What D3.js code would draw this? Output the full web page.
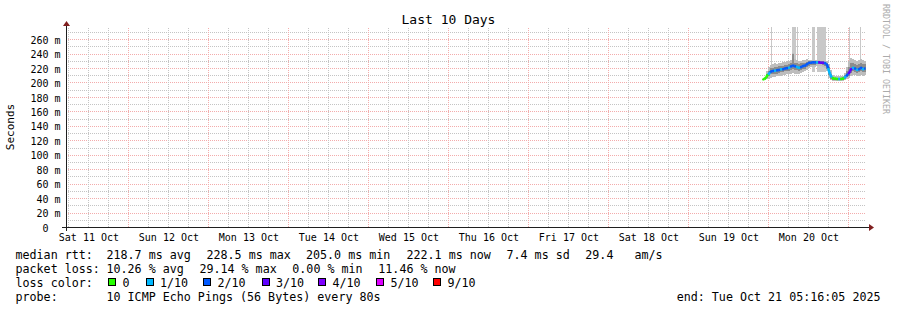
<!DOCTYPE html>
<html>
<head>
<meta charset="utf-8">
<script src="https://cdn.jsdelivr.net/npm/d3@7/dist/d3.min.js"></script>
<style>
html, body { margin: 0; padding: 0; background: #ffffff; }
svg { display: block; }
text { font-family: "DejaVu Sans Mono", monospace; fill: #000; }
</style>
</head>
<body>
<svg id="chart" width="897" height="310"></svg>
<script>
// ---------------- data ----------------
const chartTitle = "Last 10 Days";
const yAxisTitle = "Seconds";
const watermark = "RRDTOOL / TOBI OETIKER";
const rangeStart = "2025-10-11 05:16:05";
const rangeEnd = "2025-10-21 05:16:05";
const yTopMs = 278;
const yTickValues = [0, 20, 40, 60, 80, 100, 120, 140, 160, 180, 200, 220, 240, 260];

const sampleTimes = [
  "2025-10-19 22:24", "2025-10-19 23:00", "2025-10-19 23:36",
  "2025-10-20 00:12", "2025-10-20 00:48", "2025-10-20 01:24", "2025-10-20 02:00", "2025-10-20 02:36",
  "2025-10-20 03:12", "2025-10-20 03:48", "2025-10-20 04:24", "2025-10-20 05:00", "2025-10-20 05:36",
  "2025-10-20 06:12", "2025-10-20 06:48", "2025-10-20 07:24", "2025-10-20 08:00", "2025-10-20 08:36",
  "2025-10-20 09:12", "2025-10-20 09:48", "2025-10-20 10:24", "2025-10-20 11:00", "2025-10-20 11:36",
  "2025-10-20 12:12", "2025-10-20 12:48", "2025-10-20 13:24", "2025-10-20 14:00", "2025-10-20 14:36",
  "2025-10-20 15:12", "2025-10-20 15:48", "2025-10-20 16:24", "2025-10-20 17:00", "2025-10-20 17:36",
  "2025-10-20 18:12", "2025-10-20 18:48", "2025-10-20 19:24", "2025-10-20 20:00", "2025-10-20 20:36",
  "2025-10-20 21:12", "2025-10-20 21:48", "2025-10-20 22:24", "2025-10-20 23:00", "2025-10-20 23:36",
  "2025-10-21 00:12", "2025-10-21 00:48", "2025-10-21 01:24", "2025-10-21 02:00", "2025-10-21 02:36",
  "2025-10-21 03:12", "2025-10-21 03:48", "2025-10-21 04:24", "2025-10-21 05:00"
];
// median round trip time, ms
const medianRtt = [
  205, 206, 210, 213, 216, 216.5, 217, 217.5, 218, 219, 219, 220, 220.5, 221, 223, 224, 223, 222, 221, 222,
  223.5, 224, 226, 228, 228, 228.5, 228.5, 228.5, 228.5, 228, 228, 227.5, 225, 216, 209, 206.5, 206, 205.5, 205.5, 205.5,
  206, 208, 211, 214, 219, 221, 220, 218, 219, 221, 219, 220
];
// smoke: lowest ping, lower inner ping, upper inner ping, highest ping (ms)
const smokeLow = [
  204, 204, 205, 206, 207, 208, 208, 209, 209, 210, 211, 211, 212, 212, 213, 214, 213, 213, 213, 214,
  215, 216, 218, 221, 222, 222, 222, 223, 223, 223, 222, 221, 216, 207, 204, 203, 203, 203, 203, 203,
  203, 204, 205, 207, 210, 211, 211, 210, 210, 211, 210, 211
];
const smokeLowInner = [
  204.5, 205, 207, 209, 212, 212, 213, 213, 214, 215, 215, 216, 216, 217, 218, 219, 218, 218, 217, 218,
  219, 220, 222, 224, 225, 225, 225, 226, 226, 226, 225, 224, 220, 211, 206, 204.5, 204.5, 204, 204, 204,
  204.5, 206, 208, 210, 214, 216, 215, 214, 215, 216, 215, 215
];
const smokeHighInner = [
  205.5, 207, 213, 217, 221, 221, 222, 222, 223, 223, 224, 225, 225, 226, 228, 240, 228, 227, 226, 227,
  228, 228, 229, 230, 230, 230, 230, 230, 230, 230, 230, 229, 228, 222, 213, 208, 207.5, 207, 207, 207,
  208, 211, 216, 222, 227, 227, 226, 225, 226, 227, 226, 226
];
const smokeHigh = [
  206, 208, 216, 222, 225, 226, 227, 226, 228, 227, 229, 229, 230, 231, 232, 242, 233, 232, 231, 231,
  232, 232, 233, 232, 232, 232, 232, 232, 232, 231, 231, 231, 230, 226, 218, 211, 210, 209, 209, 209,
  210, 214, 222, 230, 234, 233, 232, 231, 232, 233, 232, 231
];
// lost pings out of 10 per sample
const lostPings = [
  0, 0, 0, 1, 2, 2, 1, 2, 2, 1, 2, 2, 2, 1, 2, 2, 2, 1, 1, 2,
  2, 2, 2, 2, 2, 2, 2, 1, 3, 3, 3, 2, 2, 1, 1, 0, 0, 0, 1, 0,
  0, 1, 2, 3, 3, 1, 2, 1, 2, 2, 1, 2
];
// periods where the slowest pings went off the top of the chart
const spikeStart = ["2025-10-20 00:38", "2025-10-20 06:56", "2025-10-20 08:38", "2025-10-20 12:59", "2025-10-20 14:29", "2025-10-21 00:02", "2025-10-21 03:20"];
const spikeEnd   = ["2025-10-20 00:56", "2025-10-20 08:20", "2025-10-20 08:56", "2025-10-20 13:59", "2025-10-20 17:17", "2025-10-21 00:20", "2025-10-21 03:38"];

const lossLevels = [0, 1, 2, 3, 4, 5, 9];
const lossLabels = ["0", "1/10", "2/10", "3/10", "4/10", "5/10", "9/10"];
const lossColors = ["#26ff00", "#00b8ff", "#0059ff", "#5e00ff", "#7e00ff", "#dd00ff", "#ff0000"];

const medianStats = ["median rtt:", "218.7 ms avg", "228.5 ms max", "205.0 ms min", "222.1 ms now", "7.4 ms sd", "29.4", "am/s"];
const lossStats = ["packet loss:", "10.26 % avg", "29.14 % max", "0.00 % min", "11.46 % now"];
const lossColorLabel = "loss color:";
const probeInfo = ["probe:", "10 ICMP Echo Pings (56 Bytes) every 80s"];
const endInfo = "end: Tue Oct 21 05:16:05 2025";

// ---------------- layout ----------------
const svg = d3.select("#chart");
const parseFull = d3.timeParse("%Y-%m-%d %H:%M:%S");
const parseMin = d3.timeParse("%Y-%m-%d %H:%M");
const t0 = parseFull(rangeStart), t1 = parseFull(rangeEnd);

const plotL = 66, plotR = 866, plotB = 227.5, plotT = 26.6;
const x = d3.scaleTime().domain([t0, t1]).range([plotL, plotR]);
const y = d3.scaleLinear().domain([0, yTopMs]).range([plotB, plotT]);

const majorGrid = "#f3acac", minorGrid = "#c4c4c4";

// dotted grid drawn with pixel patterns
const defs = svg.append("defs");
const mkPattern = (id, w, h, color) => {
  defs.append("pattern").attr("id", id).attr("patternUnits", "userSpaceOnUse")
    .attr("width", w).attr("height", h)
    .append("rect").attr("width", 1).attr("height", 1).attr("fill", color);
};
mkPattern("hMin", 2, 1, minorGrid);
mkPattern("hMaj", 2, 1, majorGrid);
mkPattern("vMin", 1, 2, minorGrid);
mkPattern("vMaj", 1, 2, majorGrid);

const gridLayer = svg.append("g").attr("shape-rendering", "crispEdges");
const hMinor = d3.range(10, yTopMs, 10).filter(v => v % 20 !== 0);
const hMajor = d3.range(20, yTopMs, 20);
const rowOf = v => Math.round(y(v) - 0.5);
gridLayer.selectAll(null).data(hMinor).enter().append("rect")
  .attr("x", plotL + 1).attr("width", plotR - plotL - 1)
  .attr("y", d => rowOf(d)).attr("height", 1).attr("fill", "url(#hMin)");
gridLayer.selectAll(null).data(hMajor).enter().append("rect")
  .attr("x", plotL + 1).attr("width", plotR - plotL - 1)
  .attr("y", d => rowOf(d)).attr("height", 1).attr("fill", "url(#hMaj)");

const vAll = d3.timeHour.every(6).range(t0, t1);
const vMinor = vAll.filter(d => d.getHours() !== 0);
const vMajor = d3.timeDay.range(t0, t1);
const colOf = d => Math.round(x(d));
gridLayer.selectAll(null).data(vMinor).enter().append("rect")
  .attr("x", d => colOf(d)).attr("width", 1)
  .attr("y", 27).attr("height", 200).attr("fill", "url(#vMin)");
gridLayer.selectAll(null).data(vMajor).enter().append("rect")
  .attr("x", d => colOf(d)).attr("width", 1)
  .attr("y", 27).attr("height", 200).attr("fill", "url(#vMaj)");

// ---------------- smoke ----------------
const times = sampleTimes.map(parseMin);
const stepW = x(times[1]) - x(times[0]);
const samples = times.map((t, i) => ({
  t, med: medianRtt[i], lo: smokeLow[i], loIn: smokeLowInner[i],
  hiIn: smokeHighInner[i], hi: smokeHigh[i], loss: lostPings[i]
}));
const plotLayer = svg.append("g");

const spikes = spikeStart.map((s, i) => ({ s: parseMin(s), e: parseMin(spikeEnd[i]) }));
plotLayer.selectAll(null).data(spikes).enter().append("rect")
  .attr("x", d => x(d.s)).attr("width", d => Math.max(1, x(d.e) - x(d.s)))
  .attr("y", y(yTopMs)).attr("height", y(215) - y(yTopMs))
  .attr("fill", "#c8c8c8").attr("shape-rendering", "crispEdges");

plotLayer.selectAll(null).data(samples).enter().append("rect")
  .attr("x", d => x(d.t) - stepW / 2).attr("width", stepW)
  .attr("y", d => y(d.hi)).attr("height", d => y(d.lo) - y(d.hi))
  .attr("fill", "#bdbdbd").attr("shape-rendering", "crispEdges");
plotLayer.selectAll(null).data(samples).enter().append("rect")
  .attr("x", d => x(d.t) - stepW / 2).attr("width", stepW)
  .attr("y", d => y(d.hiIn)).attr("height", d => y(d.loIn) - y(d.hiIn))
  .attr("fill", "#8c8c8c").attr("shape-rendering", "crispEdges");

// ---------------- median line coloured by loss ----------------
const lossColor = n => {
  let c = lossColors[0];
  lossLevels.forEach((lv, i) => { if (n >= lv) c = lossColors[i]; });
  return c;
};
const pt = d => [x(d.t), y(d.med)];
const segs = samples.map((d, i) => {
  const p = pt(d);
  const a = i > 0 ? pt(samples[i - 1]) : [p[0] - stepW / 2, p[1]];
  const b = i < samples.length - 1 ? pt(samples[i + 1]) : [p[0] + stepW / 2, p[1]];
  return { pts: [[(a[0] + p[0]) / 2, (a[1] + p[1]) / 2], p, [(b[0] + p[0]) / 2, (b[1] + p[1]) / 2]], color: lossColor(d.loss) };
});
plotLayer.selectAll(null).data(segs).enter().append("path")
  .attr("d", d => d3.line()(d.pts))
  .attr("fill", "none").attr("stroke", d => d.color)
  .attr("stroke-width", 2.6).attr("stroke-linecap", "butt").attr("stroke-linejoin", "round");

// ---------------- axes ----------------
const axisCol = "#1f1f1f", arrowCol = "#801f1f";
svg.append("line").attr("x1", plotL - 4).attr("x2", plotR + 4).attr("y1", plotB).attr("y2", plotB)
  .attr("stroke", axisCol).attr("shape-rendering", "crispEdges");
svg.append("line").attr("x1", plotL + 0.5).attr("x2", plotL + 0.5).attr("y1", plotB + 3).attr("y2", 24)
  .attr("stroke", axisCol).attr("shape-rendering", "crispEdges");
svg.append("path").attr("d", `M${plotR + 3},${plotB - 3.5}L${plotR + 8},${plotB}L${plotR + 3},${plotB + 3.5}Z`).attr("fill", arrowCol);
svg.append("path").attr("d", `M${plotL + 0.5 - 3.5},26L${plotL + 0.5},21L${plotL + 0.5 + 3.5},26Z`).attr("fill", arrowCol);

// y tick labels
const yAxis = d3.axisLeft(y).tickValues(yTickValues).tickSize(0).tickPadding(0)
  .tickFormat(d => d === 0 ? "0\u00a0\u00a0" : `${d} m`);
svg.append("g").attr("transform", "translate(60.5,0)").call(yAxis)
  .call(g => g.select(".domain").remove())
  .call(g => g.selectAll("text").attr("x", 0).attr("dy", "0.36em")
    .style("font-family", "'DejaVu Sans Mono', monospace").style("font-size", "10px").attr("fill", "#000"));

// x tick labels at noon
const noons = d3.timeDay.range(t0, t1).map(d => d3.timeHour.offset(d, -12)).filter(d => d >= t0);
const xAxis = d3.axisBottom(x).tickValues(noons).tickSize(0).tickPadding(0)
  .tickFormat(d3.timeFormat("%a %d %b"));
svg.append("g").attr("transform", "translate(0,241)").call(xAxis)
  .call(g => g.select(".domain").remove())
  .call(g => g.selectAll("text").attr("y", 0).attr("dy", 0)
    .style("font-family", "'DejaVu Sans Mono', monospace").style("font-size", "10px").attr("fill", "#000"));

// titles
svg.append("text").attr("x", 448.5).attr("y", 24).attr("text-anchor", "middle")
  .style("font-size", "13px").text(chartTitle);
svg.append("text").attr("transform", `translate(14,${(plotT + plotB) / 2}) rotate(-90)`)
  .attr("text-anchor", "middle").style("font-size", "11px").text(yAxisTitle);
svg.append("text").attr("transform", "translate(883,4) rotate(90)")
  .style("font-size", "8.3px").style("fill", "#ababab").text(watermark);

// ---------------- legend ----------------
const legendFont = "11.68px";
const lineY = [259, 273, 287, 301];
const medianX = [15.5, 106.5, 206.5, 306, 406.5, 506.5, 585.3, 634.5];
const lossX = [15.5, 106.5, 199.4, 292.3, 378.3];
const probeX = [15.5, 106.5];
const legend = svg.append("g").style("font-size", legendFont);
legend.selectAll(null).data(medianStats).enter().append("text")
  .attr("x", (d, i) => medianX[i]).attr("y", lineY[0]).text(d => d);
legend.selectAll(null).data(lossStats).enter().append("text")
  .attr("x", (d, i) => lossX[i]).attr("y", lineY[1]).text(d => d);
legend.append("text").attr("x", 15.5).attr("y", lineY[2]).text(lossColorLabel);
legend.selectAll(null).data(probeInfo).enter().append("text")
  .attr("x", (d, i) => probeX[i]).attr("y", lineY[3]).text(d => d);
legend.append("text").attr("x", 880.5).attr("y", lineY[3]).attr("text-anchor", "end").text(endInfo);

// loss colour boxes
const boxX = [108, 145.5, 203, 261.5, 318, 376, 433];
const items = legend.selectAll(null).data(lossLabels).enter().append("g")
  .attr("transform", (d, i) => `translate(${boxX[i]},0)`);
items.append("rect").attr("x", 0.5).attr("y", 278.5).attr("width", 7).attr("height", 7)
  .attr("fill", (d, i) => lossColors[i]).attr("stroke", "#000").attr("stroke-width", 1)
  .attr("shape-rendering", "crispEdges");
items.append("text").attr("x", 14.5).attr("y", lineY[2]).text(d => d);
</script>
</body>
</html>
